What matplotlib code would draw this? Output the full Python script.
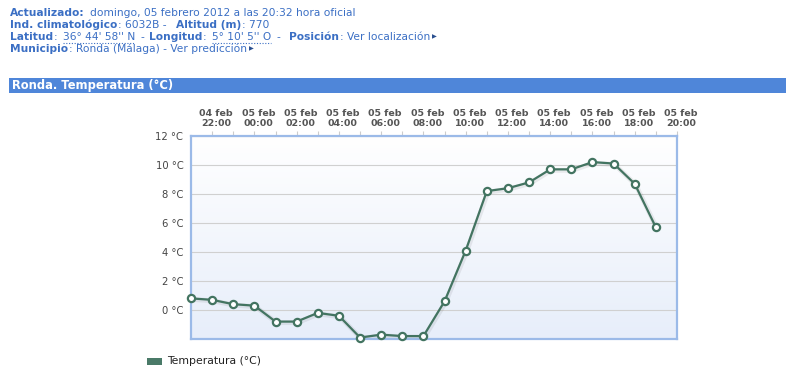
import matplotlib
matplotlib.use("Agg")
import matplotlib.pyplot as plt
import numpy as np
from matplotlib.lines import Line2D
from matplotlib.patches import Rectangle
from matplotlib.colors import LinearSegmentedColormap
import matplotlib.transforms as mtransforms

W, H = 796, 377

# ---- data ----
hours = ["21:00", "22:00", "23:00", "00:00", "01:00", "02:00", "03:00", "04:00",
         "05:00", "06:00", "07:00", "08:00", "09:00", "10:00", "11:00", "12:00",
         "13:00", "14:00", "15:00", "16:00", "17:00", "18:00", "19:00"]
temps = [0.8, 0.7, 0.4, 0.3, -0.8, -0.8, -0.2, -0.4, -1.9, -1.7, -1.8, -1.8,
         0.6, 4.1, 8.2, 8.4, 8.8, 9.7, 9.7, 10.2, 10.1, 8.7, 5.7]
tick_labels = ["04 feb\n22:00", "05 feb\n00:00", "05 feb\n02:00", "05 feb\n04:00",
               "05 feb\n06:00", "05 feb\n08:00", "05 feb\n10:00", "05 feb\n12:00",
               "05 feb\n14:00", "05 feb\n16:00", "05 feb\n18:00", "05 feb\n20:00"]
y_ticks = [0, 2, 4, 6, 8, 10, 12]
y_labels = ["0 °C", "2 °C", "4 °C", "6 °C", "8 °C", "10 °C", "12 °C"]

BLUE = "#3b6fc4"
LINE = "#437461"

fig = plt.figure(figsize=(W / 100, H / 100), dpi=100)
fig.patch.set_facecolor("white")
renderer = fig.canvas.get_renderer()


def fx(px):
    return px / W


def fy(py):
    return 1 - py / H


# ---- header: segments (gap_before_px, text, bold, underline) ----
header = [
    (13, [(0, "Actualizado:", True, False),
          (5, "domingo, 05 febrero 2012 a las 20:32 hora oficial", False, False)]),
    (25, [(0, "Ind. climatológico", True, False), (1, ": 6032B -", False, False),
          (9, "Altitud (m)", True, False), (1, ": 770", False, False)]),
    (37, [(0, "Latitud", True, False), (1, ":", False, False),
          (5, "36° 44' 58'' N", False, True), (5, "-", False, False),
          (5, "Longitud", True, False), (1, ":", False, False),
          (5, "5° 10' 5'' O", False, True), (5, "-", False, False),
          (9, "Posición", True, False), (1, ": Ver localización", False, False),
          (2, "▶", False, False)]),
    (49, [(0, "Municipio", True, False),
          (1, ": Ronda (Málaga) - Ver predicción", False, False),
          (2, "▶", False, False)]),
]
for y, parts in header:
    x = 10
    for gap, txt, bold, under in parts:
        x += gap
        is_arrow = txt == "▶"
        t = fig.text(fx(x), fy(y), txt, fontsize=4.5 if is_arrow else 7.7,
                     color="#2a4f8f" if is_arrow else BLUE,
                     fontweight="bold" if bold else "normal", va="center", ha="left")
        bb = t.get_window_extent(renderer=renderer)
        if under:
            fig.add_artist(Line2D([fx(bb.x0), fx(bb.x1)], [fy(y + 6), fy(y + 6)],
                                  transform=fig.transFigure, color=BLUE, lw=0.8,
                                  linestyle=(0, (1, 1.5))))
        x = bb.x1

# ---- title bar ----
fig.add_artist(Rectangle((fx(9), fy(93)), fx(786) - fx(9), fy(78) - fy(93),
                         transform=fig.transFigure, facecolor="#4f86d9", edgecolor="none"))
fig.text(fx(12), fy(85.5), "Ronda. Temperatura (°C)", fontsize=8.3, color="white",
         fontweight="bold", va="center", ha="left")

# ---- chart ----
ax = fig.add_axes([fx(191), fy(339), fx(677) - fx(191), fy(136) - fy(339)])
x = np.arange(len(temps))

cmap = LinearSegmentedColormap.from_list("bg", ["#ffffff", "#e7eefa"])
ax.imshow(np.linspace(0, 1, 256).reshape(-1, 1), cmap=cmap, aspect="auto",
          extent=[0, 23, -2, 12], origin="upper", zorder=0)

ax.set_xlim(0, 23)
ax.set_ylim(-2, 12)

# shadow
shadow_tr = ax.transData + mtransforms.ScaledTranslation(1 / 100, -1 / 100, fig.dpi_scale_trans)
ax.plot(x, temps, color="black", alpha=0.07, lw=3.5, transform=shadow_tr, zorder=2,
        solid_capstyle="round")
ax.plot(x, temps, color=LINE, lw=1.6, marker="o", ms=5.2, mfc="white", mec=LINE,
        mew=1.6, clip_on=False, zorder=3)

for s in ax.spines.values():
    s.set_color("#9bbae8")
    s.set_linewidth(1.6)

ax.set_axisbelow(True)
ax.set_yticks(y_ticks)
ax.set_yticklabels(y_labels)
ax.yaxis.grid(True, color="#d0d0d0", lw=0.8)
ax.tick_params(axis="y", length=0, pad=5.5, labelsize=7.2, labelcolor="#444444")

ax.xaxis.tick_top()
ax.set_xticks(np.arange(1, 24, 2))
ax.set_xticklabels(tick_labels)
ax.set_xticks(np.arange(1, 24), minor=True)
ax.tick_params(axis="x", which="both", direction="out", length=3.5, width=0.8,
               color="#cccccc", pad=2.5, labelsize=6.8, labelcolor="#555555")
ax.tick_params(axis="x", which="minor", top=True)
for lab in ax.get_xticklabels():
    lab.set_fontweight("bold")
    lab.set_linespacing(1.15)
    lab.set_transform(lab.get_transform() +
                      mtransforms.ScaledTranslation(4 / 100, 0, fig.dpi_scale_trans))

# ---- legend ----
fig.add_artist(Rectangle((fx(147), fy(364.5)), fx(162) - fx(147), fy(357.5) - fy(364.5),
                         transform=fig.transFigure, facecolor="#4a7a68", edgecolor="none"))
fig.text(fx(167), fy(361), "Temperatura (°C)", fontsize=7.8, color="#222222",
         va="center", ha="left")

fig.savefig("out.png", dpi=100)
